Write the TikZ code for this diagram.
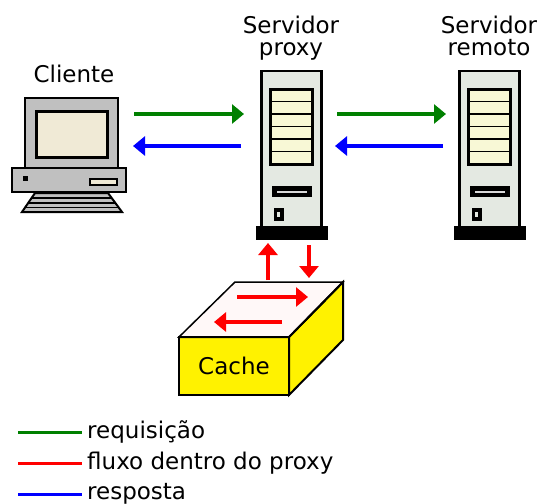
\documentclass[tikz,border=0pt]{standalone}
\usepackage{fontspec}
\setmainfont{DejaVu Sans}
\usepackage{xcolor}
\usetikzlibrary{arrows.meta,positioning}

\definecolor{verde}{RGB}{0,128,0}
\definecolor{cinza}{RGB}{192,192,192}
\definecolor{tela}{RGB}{240,234,214}
\definecolor{corpo}{RGB}{228,233,226}
\definecolor{painel}{RGB}{248,248,214}
\definecolor{topo}{RGB}{255,248,248}

\begin{document}
\begin{tikzpicture}[x=1pt,y=-1pt,font=\fontsize{23}{22}\selectfont,
    seta/.style={line width=3.5,-{Triangle[length=12,width=19]}},
    req/.style={seta,verde},
    resp/.style={seta,blue},
    fluxo/.style={seta,red},
    rotulo/.style={align=center,anchor=base},
    legenda/.style={anchor=base west,inner sep=0},
    pics/servidor/.style={code={
        \draw[line width=2.5,fill=corpo] (-30,0) rectangle (30,156);
        \fill (-36,155) rectangle (36,169);
        \draw[line width=3,fill=painel] (-21,18) rectangle (21,93);
        \foreach \k in {1,...,5}
            \draw[line width=1.5] (-21,18+12.5*\k) -- (21,18+12.5*\k);
        \fill (-20,115) rectangle (20,126);
        \fill[white!85!black] (-15,119.5) rectangle (15,121.5);
        \fill (-18,137) rectangle (-8,150);
        \fill[corpo] (-14.5,141) rectangle (-11.5,146);
    }}]
\useasboundingbox (0,0) rectangle (542,504);

% cliente
\draw[line width=2,fill=cinza] (25,98) rectangle (118,168);
\draw[line width=3,fill=tela] (36,111) rectangle (107,157);
\draw[line width=2,fill=cinza] (12,168) rectangle (126,192);
\fill (23,176) rectangle (28,181);
\draw[line width=1.5,fill=tela] (90,179) rectangle (117,185);
\draw[line width=2,fill=cinza] (35,193) -- (108,193) -- (122,212) -- (22,212) -- cycle;
\foreach \y/\a/\b in {198/31/112, 203/28/115, 207.5/25/118}
    \draw[line width=1.2] (\a,\y) -- (\b,\y);
\node[rotulo] (cliente) at (74,82) {Cliente};

% servidores
\pic at (291.5,71) {servidor};
\pic at (489.5,71) {servidor};
\node[rotulo] (proxy) at (291,55) {Servidor\\proxy};
\node[rotulo] (remoto) at (489,55) {Servidor\\remoto};

% cache
\draw[line width=2,fill=yellow] (179,337) rectangle (289,395);
\draw[line width=2,fill=yellow] (289,337) -- (343,282) -- (343,340) -- (289,395) -- cycle;
\draw[line width=1.5,fill=topo] (179,337) -- (235,282) -- (343,282) -- (289,337) -- cycle;
\draw[line width=2] (179,337) -- (289,337) -- (343,282);
\node (cache) at (234,366) {Cache};

% pontos das setas
\coordinate (cli-s) at (134,114);
\coordinate (prx-e) at (244,114);
\coordinate (prx-s) at (241,146);
\coordinate (cli-e) at (133,146);
\coordinate (prx-s2) at (337,114);
\coordinate (rem-e) at (446,114);
\coordinate (rem-s) at (443,146);
\coordinate (prx-e2) at (335,146);
\coordinate (cache-s) at (268,280);
\coordinate (prx-b1) at (268,243);
\coordinate (prx-b2) at (309,245);
\coordinate (cache-e) at (309,278);
\coordinate (topo-a) at (237,297);
\coordinate (topo-b) at (308,297);
\coordinate (topo-c) at (282,322);
\coordinate (topo-d) at (214,322);

\draw[req] (cli-s) -- (prx-e);
\draw[resp] (prx-s) -- (cli-e);
\draw[req] (prx-s2) -- (rem-e);
\draw[resp] (rem-s) -- (prx-e2);
\draw[fluxo] (cache-s) -- (prx-b1);
\draw[fluxo] (prx-b2) -- (cache-e);
\draw[fluxo] (topo-a) -- (topo-b);
\draw[fluxo] (topo-c) -- (topo-d);

% legenda
\node[legenda] (l-req) at (87,438) {requisição};
\node[legenda] (l-flx) at (87,469) {fluxo dentro do proxy};
\node[legenda] (l-resp) at (87,499) {resposta};
\coordinate (a1) at (18,432);
\coordinate (a2) at (18,463);
\coordinate (a3) at (18,494);
\draw[line width=3,verde] (a1) -- ++(64,0);
\draw[line width=3,red] (a2) -- ++(64,0);
\draw[line width=3,blue] (a3) -- ++(64,0);
\end{tikzpicture}
\end{document}
